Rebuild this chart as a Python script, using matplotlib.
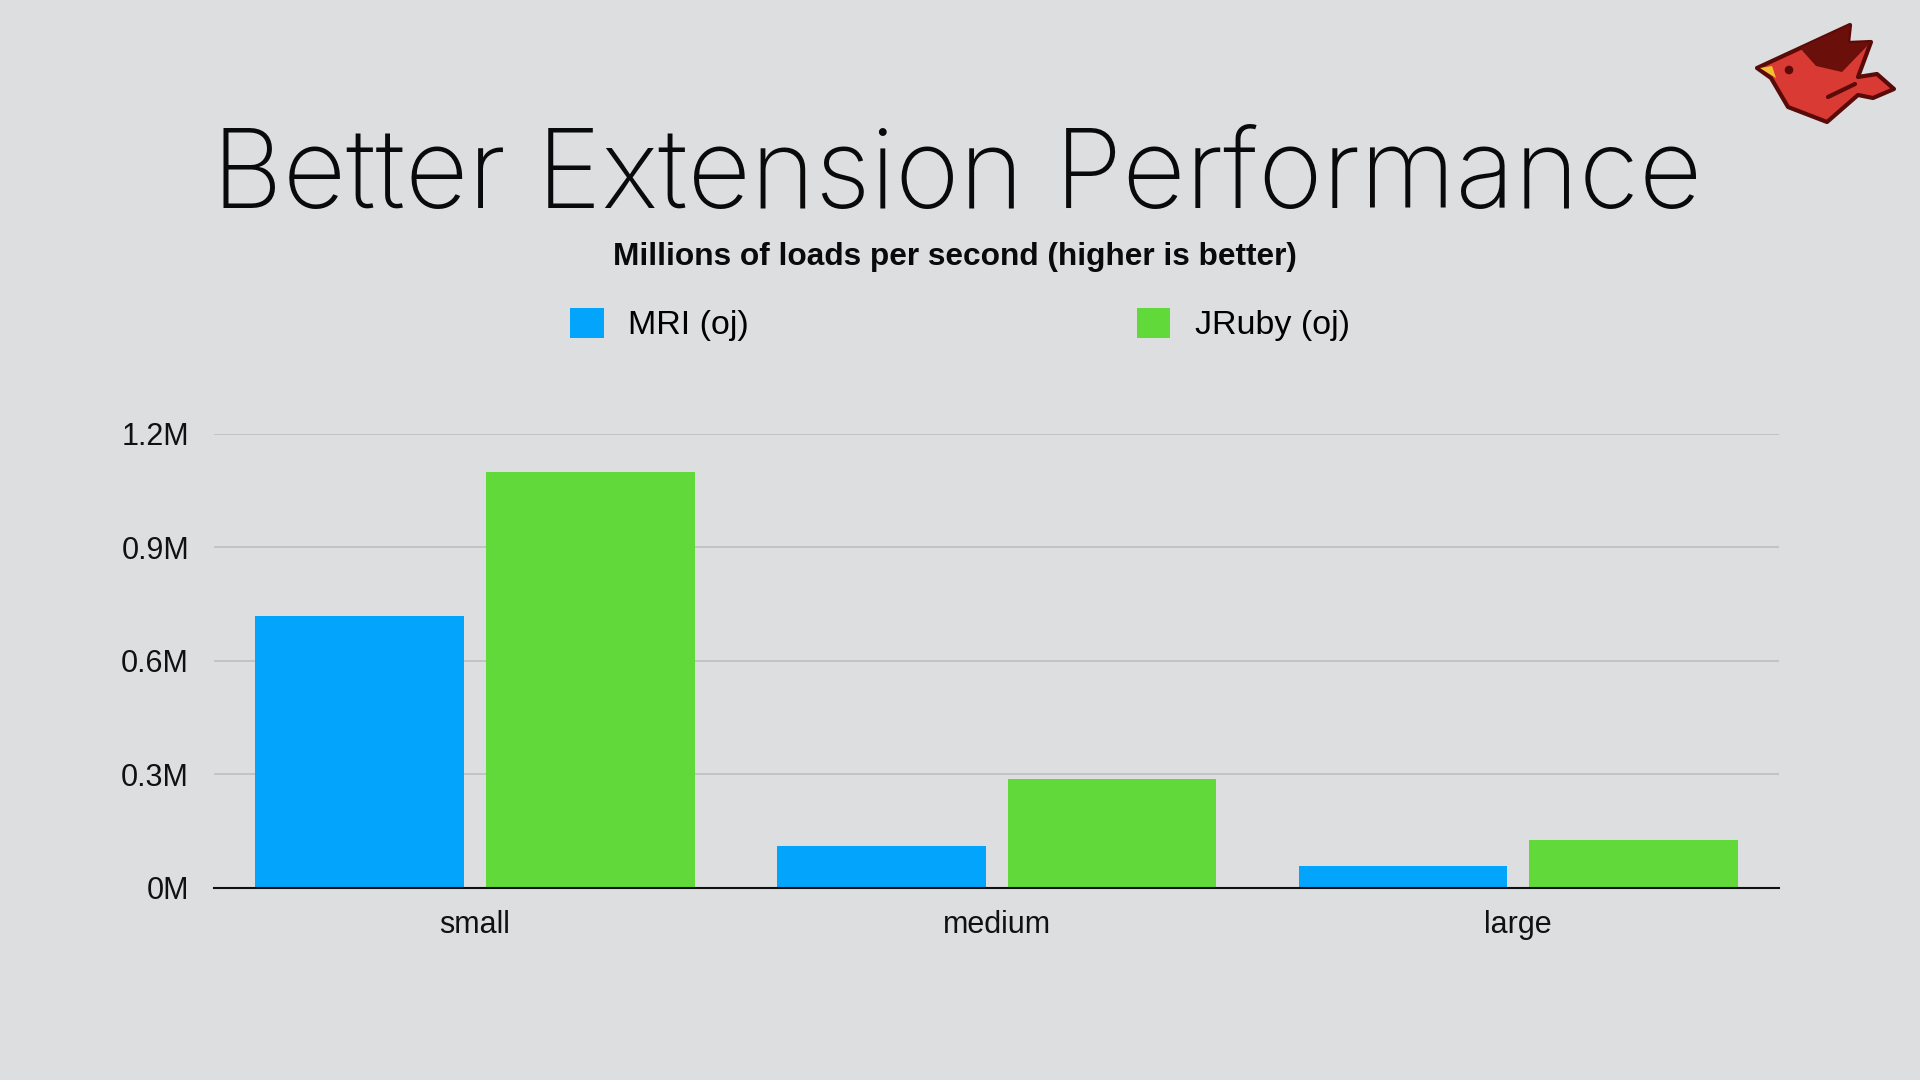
import matplotlib.pyplot as plt
import numpy as np
from matplotlib.patches import Polygon, Circle

# data (millions of loads per second)
categories = ["small", "medium", "large"]
mri_oj = [0.718, 0.110, 0.058]
jruby_oj = [1.100, 0.288, 0.126]
series_names = ["MRI (oj)", "JRuby (oj)"]
y_ticks = [0, 0.3, 0.6, 0.9, 1.2]
y_tick_labels = ["0M", "0.3M", "0.6M", "0.9M", "1.2M"]

BG = "#DCDEE0"
BLUE = "#03A4FB"
GREEN = "#62D93B"

plt.rcParams['font.family'] = ['Liberation Sans', 'DejaVu Sans']

fig = plt.figure(figsize=(19.2, 10.8), dpi=100, facecolor=BG)
ax = fig.add_axes([0.1115, 0.1778, 0.8151, 0.4206])
ax.set_facecolor(BG)

x = np.arange(len(categories))
w = 0.40
b1 = ax.bar(x - 0.221, mri_oj, width=w, color=BLUE, label=series_names[0], zorder=3)
b2 = ax.bar(x + 0.221, jruby_oj, width=w, color=GREEN, label=series_names[1], zorder=3)

ax.set_xlim(-0.5, len(categories) - 0.5)
ax.set_ylim(0, 1.2)
ax.set_yticks(y_ticks)
ax.set_yticklabels(y_tick_labels)
ax.set_xticks(x)
ax.set_xticklabels(categories)
ax.tick_params(axis='y', length=0, pad=18, labelsize=22, colors='#111111')
ax.tick_params(axis='x', length=0, pad=16, labelsize=22, colors='#111111')
ax.grid(axis='y', color='#BEBEBE', linewidth=1.2, zorder=0)
for s in ['top', 'right', 'left']:
    ax.spines[s].set_visible(False)
ax.spines['bottom'].set_color('#111111')
ax.spines['bottom'].set_linewidth(1.5)
ax.spines['bottom'].set_zorder(4)

fig.legend(handles=[b1, b2], loc='center', bbox_to_anchor=(0.5, 0.6995), ncol=2,
           frameon=False, fontsize=24.5, handlelength=0.98, handleheight=0.98,
           handletextpad=0.72, columnspacing=11.4, borderaxespad=0)

fig.text(0.4985, 0.8083, "Better Extension Performance", ha='center', va='baseline',
         fontsize=79, fontweight='light', family=['Inter', 'Liberation Sans'], color='#0a0a0a')
fig.text(0.4975, 0.7545, "Millions of loads per second (higher is better)", ha='center',
         va='baseline', fontsize=22.8, fontweight='bold', color='#0a0a0a')

# bird logo in the corner
lax = fig.add_axes([0, 0, 1, 1], zorder=5)
lax.set_xlim(0, 1920)
lax.set_ylim(1080, 0)
lax.axis('off')
outline = [(1757, 68), (1850, 25), (1848, 43), (1871, 42), (1858, 77), (1877, 74),
           (1894, 89), (1873, 98), (1858, 95), (1827, 122), (1788, 107), (1771, 78)]
lax.add_patch(Polygon(outline, closed=True, facecolor='#D93A34', edgecolor='#5A0A08',
                      linewidth=3, joinstyle='round'))
wing = [(1800, 48), (1850, 25), (1848, 43), (1871, 42), (1842, 72), (1816, 66)]
lax.add_patch(Polygon(wing, closed=True, facecolor='#6A0F0A', edgecolor='none'))
lax.add_patch(Polygon([(1760, 68), (1772, 66), (1776, 78)], closed=True,
                      facecolor='#F1C232', edgecolor='none'))
lax.add_patch(Circle((1789, 70), 3.6, color='#5A0A08'))
lax.plot([1828, 1855], [97, 84], color='#5A0A08', linewidth=3, solid_capstyle='round')

fig.savefig("out.png", dpi=100, facecolor=BG)
